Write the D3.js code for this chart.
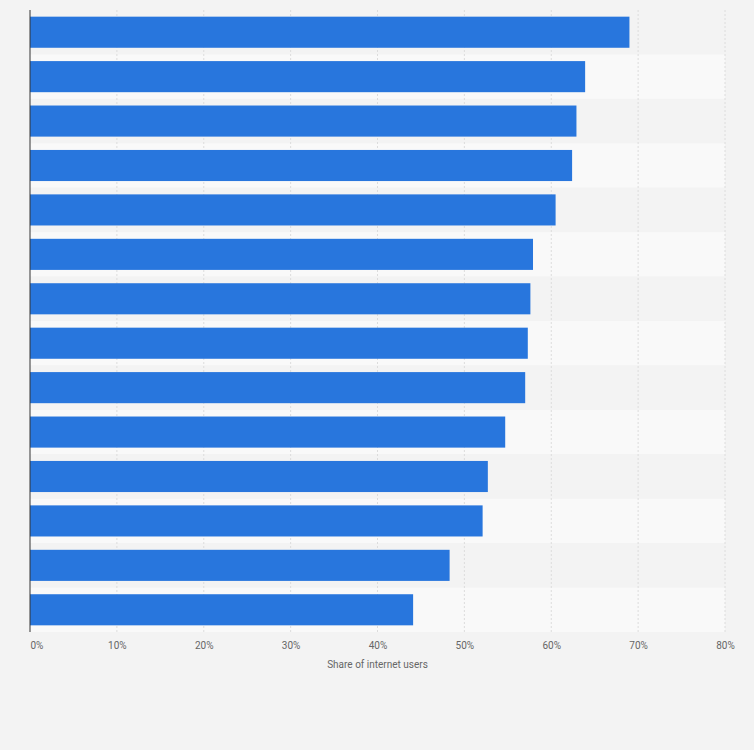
<!DOCTYPE html>
<html><head><meta charset="utf-8">
<script src="https://cdn.jsdelivr.net/npm/d3@7"></script>
<style>body{margin:0;background:#f3f3f3;font-family:Roboto,Arial,sans-serif}</style>
</head><body><svg id="chart" width="754" height="750"></svg>
<script>
var categories = ["1","2","3","4","5","6","7","8","9","10","11","12","13","14"];
var values = [69.0, 63.9, 62.9, 62.4, 60.5, 57.9, 57.6, 57.3, 57.0, 54.7, 52.7, 52.1, 48.3, 44.1];
var tickValues = [0,10,20,30,40,50,60,70,80];

var svg = d3.select("#chart");
var m = {left:30, right:29, top:10, bottom:118};
var w = 754 - m.left - m.right, h = 750 - m.top - m.bottom;
var g = svg.append("g").attr("transform","translate("+m.left+","+m.top+")");

var x = d3.scaleLinear().domain([0,80]).range([0,w]);
var y = d3.scaleBand().domain(categories).range([0,h]).paddingInner(0.3).paddingOuter(0.15);
var step = y.step();

// alternating stripes
g.selectAll("rect.stripe").data(categories).enter().append("rect")
  .attr("class","stripe")
  .attr("x",0).attr("width",w)
  .attr("y",function(d,i){return i===0?0:y(d)-step*0.15;})
  .attr("height",function(d,i){return i===0?y(d)+step*0.85:step;})
  .attr("fill",function(d,i){return i%2?"#f9f9f9":"#f3f3f3";});

// gridlines
g.selectAll("line.grid").data(tickValues.slice(1)).enter().append("line")
  .attr("x1",x).attr("x2",x).attr("y1",0).attr("y2",h)
  .attr("stroke","#dcdcdc").attr("stroke-dasharray","2,2");

g.selectAll("rect.bar").data(values).enter().append("rect")
  .attr("x",0).attr("y",function(d,i){return y(categories[i]);})
  .attr("width",function(d){return x(d);}).attr("height",y.bandwidth())
  .attr("fill","#2876dd");

g.append("line").attr("x1",0).attr("x2",0).attr("y1",0).attr("y2",h).attr("stroke","#333");

var ax = g.append("g").attr("transform","translate(0,"+h+")")
  .call(d3.axisBottom(x).tickValues(tickValues).tickFormat(function(d){return d+"%";}).tickSize(0).tickPadding(10));
ax.select(".domain").remove();
ax.selectAll("text").attr("fill","#666").attr("font-size","10px").attr("font-family","Roboto,Arial,sans-serif");
ax.selectAll(".tick").filter(function(d){return d===0;}).select("text").attr("text-anchor","start").attr("dx","0");

g.append("text").attr("x",x(40)).attr("y",h+36).attr("text-anchor","middle")
  .attr("fill","#666").attr("font-size","10px").text("Share of internet users");
</script></body></html>
